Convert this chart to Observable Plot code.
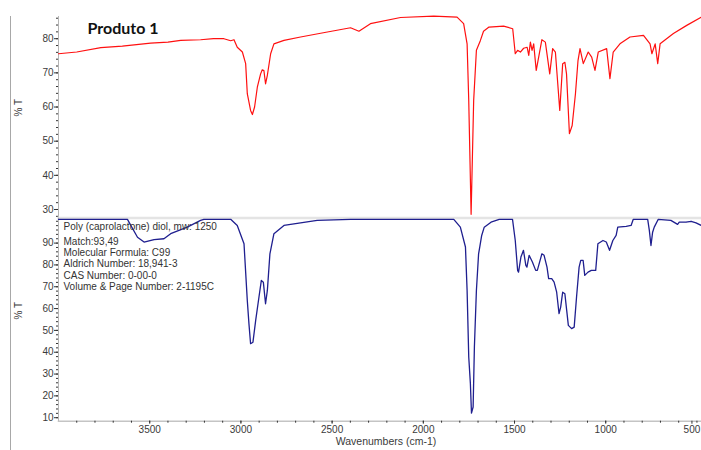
<!DOCTYPE html>
<html><head><meta charset="utf-8">
<script src="https://cdn.jsdelivr.net/npm/d3@7"></script>
<script src="https://cdn.jsdelivr.net/npm/@observablehq/plot@0.6"></script>
<style>
body{margin:0;background:#fff;}
#wrap{position:relative;width:701px;height:450px;overflow:hidden;background:#fff;}
#wrap svg{display:block;}
#vline{position:absolute;left:10px;top:16px;width:1px;height:434px;background:#a8a8a8;}
</style></head><body><div id="wrap"><div id="vline"></div></div>
<script>
const title = "Produto 1";
const yLabel = "% T";
const xLabel = "Wavenumbers (cm-1)";
const libraryInfoHead = "Poly (caprolactone) diol, mw: 1250";
const libraryInfo = ["Match:93,49", "Molecular Formula: C99", "Aldrich Number: 18,941-3", "CAS Number: 0-00-0", "Volume & Page Number: 2-1195C"];
const xTicks = [3500, 3000, 2500, 2000, 1500, 1000];
const xEdgeTicks = [500];
const topYTicks = [30, 40, 50, 60, 70, 80];
const bottomYTicks = [10, 20, 30, 40, 50, 60, 70, 80, 90];

// Sample spectrum (top, red)
const sampleWn = [4000,3900,3768,3650,3495,3400,3330,3221,3150,3093,3056,3038,3020,2992,2974,2965,2947,2937,2925,2910,2892,2883,2874,2865,2855,2837,2819,2764,2673,2563,2399,2353,2290,2125,1943,1815,1779,1760,1751,1738,1724,1709,1687,1670,1640,1560,1510,1496,1483,1468,1450,1431,1422,1413,1404,1395,1381,1350,1331,1307,1291,1276,1252,1236,1224,1215,1199,1184,1166,1152,1141,1123,1096,1077,1059,1041,995,977,959,922,867,793,757,747,729,715,702,629,556,477];
const sampleT = [75.6,76.1,77.4,77.8,78.7,79.0,79.5,79.7,80.0,80.0,79.4,79.7,77.5,76.1,72.7,63.9,59.0,57.8,60.0,65.8,69.7,70.9,70.7,66.8,69.3,75.6,78.5,79.5,80.5,81.6,83.2,82.2,84.4,86.2,86.6,86.3,84.4,78.5,61.9,28.6,61.9,76.6,79.5,82.2,83.4,83.7,82.9,75.6,76.6,76.1,77.2,77.5,75.1,79.0,76.6,78.5,70.7,79.7,79.0,69.7,77.1,76.1,59.0,72.7,73.1,69.7,52.2,54.6,63.9,73.6,77.1,72.7,76.1,74.6,70.7,76.1,77.1,68.3,76.1,78.5,80.5,81.0,78.5,75.6,78.5,72.7,78.5,81.5,83.9,86.3];

// Library reference spectrum (bottom, blue)
const refWn = [4000,3622,3567,3531,3476,3422,3385,3294,3221,3203,3056,3020,2983,2965,2956,2947,2934,2919,2901,2888,2877,2865,2855,2841,2819,2764,2673,2582,2399,1833,1797,1769,1760,1751,1742,1736,1727,1720,1709,1697,1690,1680,1666,1629,1584,1511,1496,1483,1478,1465,1451,1438,1432,1420,1402,1384,1375,1350,1338,1322,1313,1296,1283,1269,1256,1247,1236,1224,1214,1205,1187,1173,1160,1146,1137,1124,1115,1097,1079,1055,1043,1015,997,979,961,943,934,888,861,849,770,761,752,743,734,712,643,606,597,560,532,505,477];
const refT = [100.9,100.9,92.7,90.5,91.6,92.0,94.3,97.3,100.4,100.9,100.9,98.1,89.7,63.7,53.1,43.9,44.6,54.6,65.3,72.9,72.1,62.2,68.3,85.1,94.3,98.1,99.3,100.4,100.9,100.9,97.3,88.2,68.3,37.8,25.6,12.1,14.9,42.4,68.3,85.1,88.5,93.5,97.3,99.6,100.9,100.9,91.2,77.5,76.7,83.6,86.7,79.8,79.0,84.4,81.3,77.5,77.5,85.1,84.4,79.0,73.7,73.7,72.1,67.5,57.7,60.7,67.5,66.8,59.2,52.3,50.8,51.5,65.3,79.0,82.1,82.1,75.2,76.7,77.5,77.5,89.7,91.2,90.5,86.7,91.2,93.5,97.3,97.7,98.1,100.9,100.9,95.8,88.9,95.0,97.3,100.9,100.4,98.6,99.6,99.6,100.0,99.3,98.1];

const sample = sampleWn.map((w, i) => ({w, t: sampleT[i]}));
const ref = refWn.map((w, i) => ({w, t: refT[i]}));

const font = "Liberation Sans, Arial, sans-serif";
const txt = "#3a3a3a";
const xDomain = [4000, 475];
const minorX = d3.range(500, 4000, 100);

const topPlot = Plot.plot({
  width: 701, height: 216,
  marginLeft: 58, marginRight: 0, marginTop: 16, marginBottom: 0,
  style: {fontFamily: font, fontSize: "10px", color: txt, background: "transparent", overflow: "visible"},
  x: {domain: xDomain, axis: null},
  y: {domain: [27.95, 86.5], axis: null},
  marks: [
    Plot.frame({anchor: "left", stroke: "#b5b5b5", strokeWidth: 1}),
    Plot.axisY(d3.range(28, 87, 2), {tickSize: 2, text: null, label: null, stroke: "#333", anchor: "left"}),
    Plot.axisY(topYTicks, {tickSize: 4, tickPadding: 1, fontSize: 10, label: null, fill: txt, stroke: "#333", anchor: "left"}),
    Plot.text([yLabel], {frameAnchor: "left", dx: -40, rotate: -90, fontSize: 10, fill: txt}),
    Plot.line(sample, {x: "w", y: "t", stroke: "#ff1010", strokeWidth: 1.2}),
    Plot.text([title], {frameAnchor: "top-left", dx: 29, dy: 12, textAnchor: "start", lineAnchor: "middle", fontSize: 16, fontWeight: "bold", fontFamily: "Lato, Open Sans, sans-serif", fill: "#111"})
  ]
});

const bottomPlot = Plot.plot({
  width: 701, height: 234,
  marginLeft: 58, marginRight: 0, marginTop: 1.5, marginBottom: 29.3,
  style: {fontFamily: font, fontSize: "10px", color: txt, background: "transparent", overflow: "visible"},
  x: {domain: xDomain, axis: null},
  y: {domain: [8.4, 101.5], axis: null},
  marks: [
    Plot.frame({anchor: "top", stroke: "#e4e4e4", strokeWidth: 2.4}),
    Plot.frame({anchor: "left", stroke: "#b5b5b5", strokeWidth: 1}),
    Plot.frame({anchor: "bottom", stroke: "#c4c4c4", strokeWidth: 1.5}),
    Plot.axisY(d3.range(10, 101, 2), {tickSize: 2, text: null, label: null, stroke: "#333", anchor: "left"}),
    Plot.axisY(bottomYTicks, {tickSize: 4, tickPadding: 1, fontSize: 10, label: null, fill: txt, stroke: "#333", anchor: "left"}),
    Plot.axisX(minorX, {tickSize: 2, text: null, label: null, stroke: "#333", anchor: "bottom"}),
    Plot.axisX(xTicks, {tickSize: 3, tickPadding: 1.5, fontSize: 10, label: null, fill: txt, stroke: "#333", anchor: "bottom", tickFormat: d => String(d)}),
    Plot.axisX(xEdgeTicks, {tickSize: 3, tickPadding: 1.5, fontSize: 10, label: null, fill: txt, stroke: "#333", anchor: "bottom", dx: -5, tickFormat: d => String(d)}),
    Plot.text([yLabel], {frameAnchor: "left", dx: -40, rotate: -90, fontSize: 10, fill: txt}),
    Plot.text([xLabel], {frameAnchor: "bottom", dx: 6, dy: 24, fontSize: 10.5, fill: txt}),
    Plot.line(ref, {x: "w", y: "t", stroke: "#1f1f8f", strokeWidth: 1.3}),
    Plot.text([libraryInfoHead], {frameAnchor: "top-left", dx: 5, dy: 9.2, textAnchor: "start", lineAnchor: "middle", fontSize: 10, fill: "#333"}),
    Plot.text([libraryInfo.join("\n")], {frameAnchor: "top-left", dx: 5, dy: 18.6, textAnchor: "start", lineAnchor: "top", lineHeight: 1.13, fontSize: 10, fill: "#333"})
  ]
});

document.getElementById("wrap").append(topPlot, bottomPlot);
</script>
</body></html>
